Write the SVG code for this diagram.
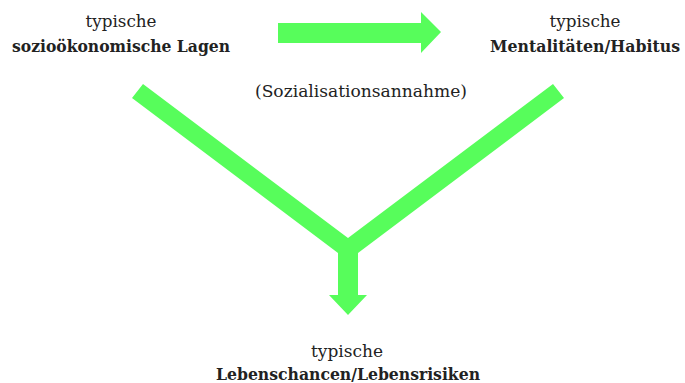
<svg xmlns="http://www.w3.org/2000/svg" width="685" height="383" viewBox="0 0 685 383">
<style>
.t{font-family:"DejaVu Serif","Liberation Serif",serif;font-size:16px;fill:#222;text-anchor:middle}
.b{font-weight:bold}
.a{fill:#57fd5b}
</style>
<rect width="685" height="383" fill="#fff"/>
<g id="connectors">
<polygon class="a" points="278,23 421,23 421,12 441,32 421,53 421,43 278,43"/>
<polygon class="a" points="143,84 348,238 553,84 564,98 358,253 358,295 367,295 348,315 329,295 338,295 338,253 132,98"/>
</g>
<g id="node-lagen">
<text class="t" x="121" y="27" textLength="71" lengthAdjust="spacingAndGlyphs">typische</text>
<text class="t b" x="121" y="52" textLength="218" lengthAdjust="spacingAndGlyphs">sozioökonomische Lagen</text>
</g>
<g id="node-habitus">
<text class="t" x="585" y="27" textLength="71" lengthAdjust="spacingAndGlyphs">typische</text>
<text class="t b" x="585" y="52" textLength="190" lengthAdjust="spacingAndGlyphs">Mentalitäten/Habitus</text>
</g>
<g id="label-sozialisation">
<text class="t" x="361" y="97" textLength="212" lengthAdjust="spacingAndGlyphs">(Sozialisationsannahme)</text>
</g>
<g id="node-lebenschancen">
<text class="t" x="347" y="357" textLength="72" lengthAdjust="spacingAndGlyphs">typische</text>
<text class="t b" x="348" y="380" textLength="264" lengthAdjust="spacingAndGlyphs">Lebenschancen/Lebensrisiken</text>
</g>
</svg>
